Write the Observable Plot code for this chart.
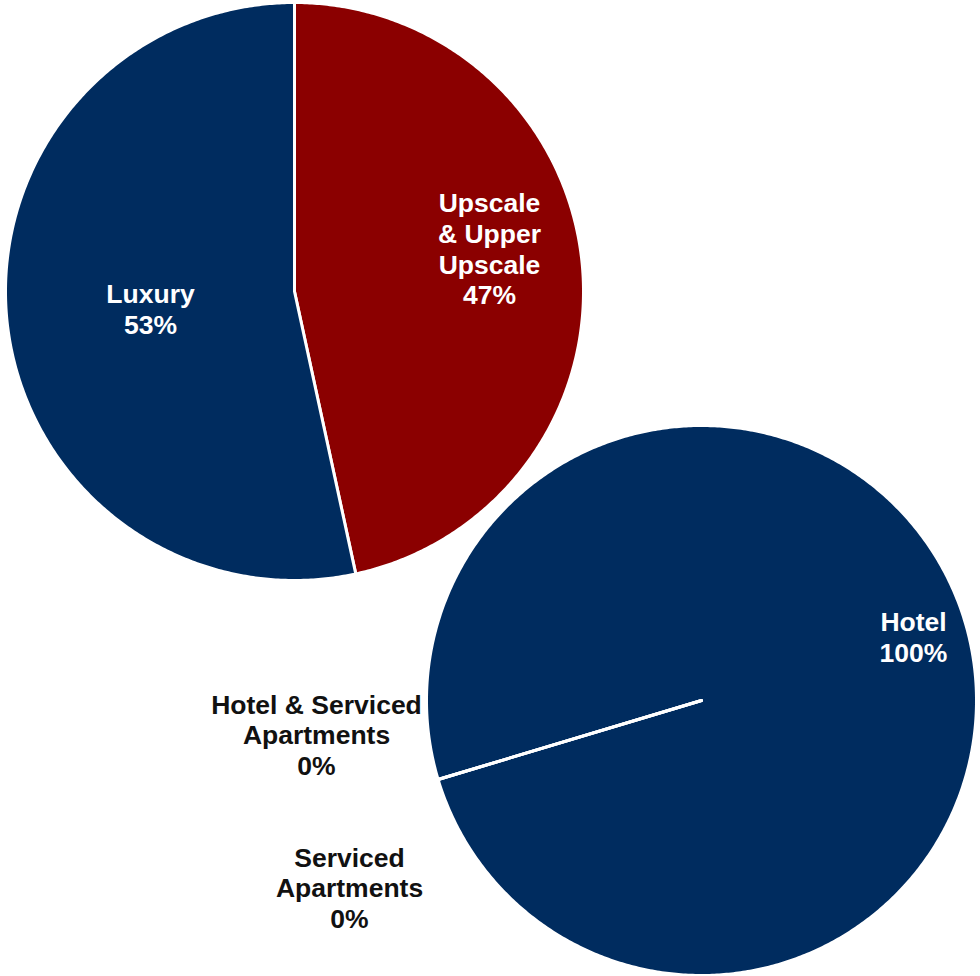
<!DOCTYPE html>
<html>
<head>
<meta charset="utf-8">
<script src="https://cdn.jsdelivr.net/npm/d3@7"></script>
<script src="https://cdn.jsdelivr.net/npm/@observablehq/plot@0.6"></script>
<style>
  html, body { margin: 0; padding: 0; background: #fff; }
</style>
</head>
<body>
<div id="chart"></div>
<script>
// ---- Data ----
const segmentCategories = ["Upscale & Upper Upscale", "Luxury"];
const segmentLabels = ["Upscale\n& Upper\nUpscale\n47%", "Luxury\n53%"];
const segmentValues = [46.6, 53.4];
const segmentColors = ["#8B0000", "#002C5F"];

const typeCategories = ["Hotel", "Hotel & Serviced Apartments", "Serviced Apartments"];
const typeLabels = ["Hotel\n100%", "Hotel & Serviced\nApartments\n0%", "Serviced\nApartments\n0%"];
const typeValues = [100, 0, 0];
const typeColors = ["#002C5F", "#002C5F", "#002C5F"];

// ---- Layout ----
const W = 980, H = 976;
const pies = [
  {cats: segmentCategories, labels: segmentLabels, vals: segmentValues, colors: segmentColors,
   cx: 294, cy: 291, r: 289, start: 0,
   labelPos: [[489, 248], [150, 308]], labelFill: ["white", "white"]},
  {cats: typeCategories, labels: typeLabels, vals: typeValues, colors: typeColors,
   cx: 701, cy: 700, r: 275, start: 253.3,
   labelPos: [[913, 636], [316, 734], [349, 887]], labelFill: ["white", "#111", "#111"]}
];

const polys = [];
const texts = [];
pies.forEach((p, pi) => {
  const total = d3.sum(p.vals);
  let a = p.start;
  p.vals.forEach((v, i) => {
    const span = v / total * 360;
    const id = pi + "-" + i;
    polys.push({id, x: p.cx, y: p.cy, color: p.colors[i]});
    const n = Math.max(1, Math.ceil(span / 0.5));
    for (let k = 0; k <= n; k++) {
      const t = (a + span * k / n) * Math.PI / 180;
      polys.push({id, x: p.cx + p.r * Math.sin(t), y: p.cy - p.r * Math.cos(t), color: p.colors[i]});
    }
    texts.push({text: p.labels[i], x: p.labelPos[i][0], y: p.labelPos[i][1], fill: p.labelFill[i]});
    a += span;
  });
});

const chart = Plot.plot({
  width: W,
  height: H,
  margin: 0,
  x: {domain: [0, W], range: [0, W], axis: null},
  y: {domain: [0, H], range: [0, H], axis: null},
  style: {background: "white"},
  marks: [
    Plot.line(polys, {
      x: "x", y: "y", z: "id",
      fill: d => d.color,
      stroke: "white",
      strokeWidth: 3,
      strokeLinejoin: "round",
      curve: "linear-closed"
    }),
    Plot.text(texts, {
      x: "x", y: "y", text: "text",
      fill: d => d.fill,
      fontSize: 26.5,
      fontWeight: "bold",
      fontFamily: "'Liberation Sans', Arial, sans-serif",
      lineHeight: 1.16,
      textAnchor: "middle"
    })
  ]
});
document.getElementById("chart").appendChild(chart);
</script>
</body>
</html>
